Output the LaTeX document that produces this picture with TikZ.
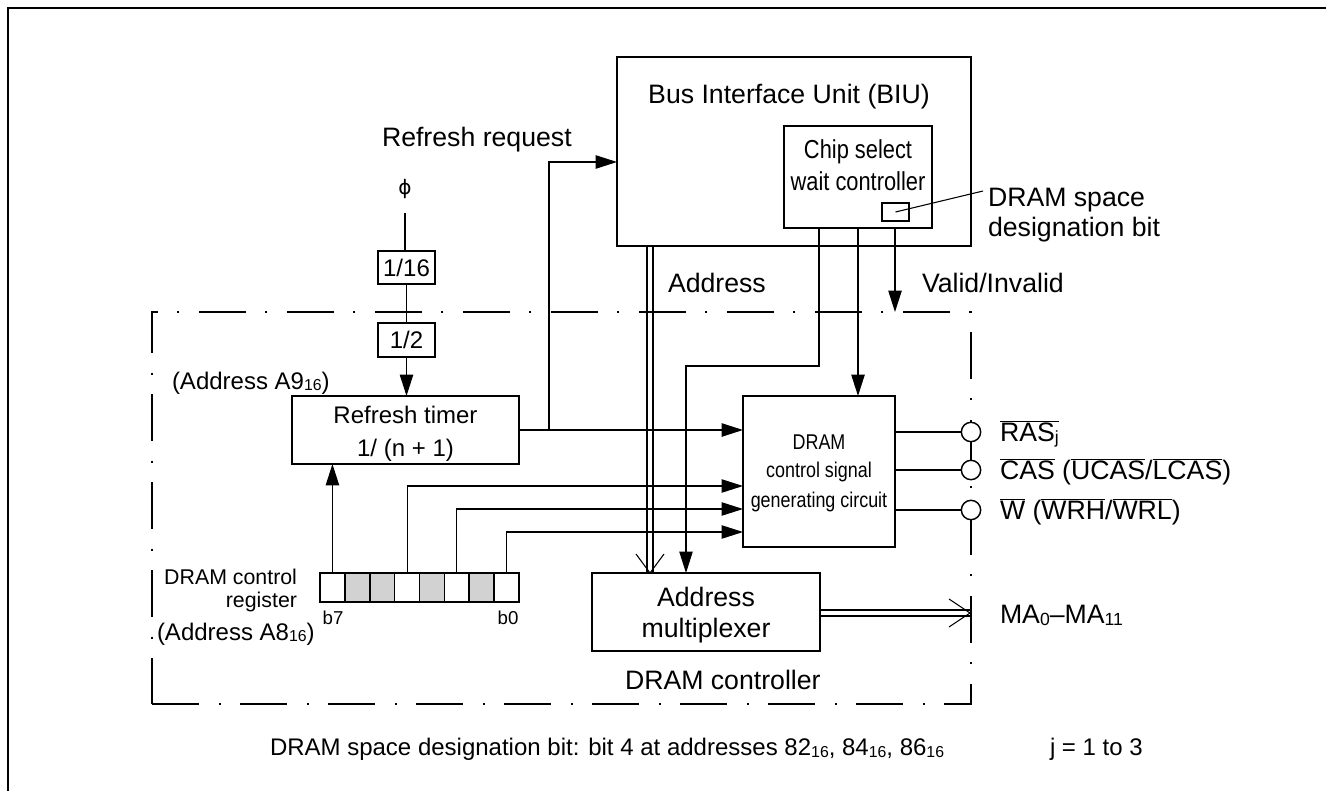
\documentclass[tikz,border=0pt]{standalone}
\usepackage{fontspec}
\usepackage{graphicx}
\setmainfont{Liberation Sans}
\newfontfamily\narrowfont[FakeStretch=0.84]{Liberation Sans}
\newfontfamily\dvfont{DejaVu Sans}
\usetikzlibrary{arrows.meta,calc}
\newcommand{\hexs}[1]{\raisebox{-0.12ex}{\scalebox{0.66}{#1}}}
\newcommand{\ovl}[1]{$\overline{\mbox{#1}}$}
\begin{document}
\begin{tikzpicture}[x=0.75pt,y=-0.75pt,
  every node/.style={inner sep=0pt, outer sep=0pt},
  txt/.style={font=\fontsize{20}{24}\selectfont},
  txtm/.style={font=\fontsize{18}{22}\selectfont},
  txtr/.style={font=\fontsize{16}{19}\selectfont},
  txts/.style={font=\fontsize{14}{16}\selectfont},
  narrowcs/.style={font=\narrowfont\fontsize{19.5}{22}\selectfont},
  narrowdc/.style={font=\narrowfont\fontsize{16}{19}\selectfont},
  blk/.style={draw, line width=1.2pt},
  conn/.style={line width=1pt},
  thinline/.style={line width=0.8pt},
  arr/.style={conn, -{Triangle[length=16pt,width=10pt]}},
  thinarr/.style={thinline, -{Triangle[length=16pt,width=10pt]}},
  dashdot/.style={draw, line width=1.1pt, dash pattern=on 35pt off 15pt on 1.5pt off 14.5pt},
  bitw/.style={draw, line width=1.2pt, minimum width=18.66pt, minimum height=21.75pt},
  bitg/.style={bitw, fill=gray!35},
  sig/.style={draw, circle, fill=white, line width=1.1pt, minimum size=14.5pt}
]
\useasboundingbox (0,0) rectangle (1326,791);
% outer frame
\draw[line width=2.2pt] (8,791) -- (8,8) -- (1326,8);

% DRAM controller dash-dot region
\node[dashdot, minimum width=614.25pt, minimum height=294pt] (ctl) at (561.5,508) {};
\node[txt, anchor=base west] (ctlt) at (625,689.5) {DRAM controller};

% BIU
\node[blk, minimum width=265.5pt, minimum height=141.75pt] (biu) at (794,151.5) {};
\node[txt, anchor=base] (biut) at (789,103.5) {Bus Interface Unit (BIU)};
\node[blk, minimum width=111pt, minimum height=76.5pt] (cs) at (858,177) {};
\node[narrowcs, anchor=base] (cst1) at (858,159) {Chip select};
\node[narrowcs, anchor=base] (cst2) at (858,191) {wait controller};
\node[blk, minimum width=20.25pt, minimum height=13.5pt] (sm) at (895.5,212) {};
\coordinate (ldr) at (983,191);
\draw[thinline] (sm.center) -- (ldr);
\node[txt, anchor=base west] (dsd1) at (988,207) {DRAM space};
\node[txt, anchor=base west] (dsd2) at (988,237) {designation bit};

% clock path
\node[txt, anchor=base west] (rrq) at (382,146.5) {Refresh request};
\node[font=\dvfont\fontsize{15}{18}\selectfont] (phi) at (405,189) {ϕ};
\coordinate (phib) at (405,213);
\node[blk, txtm, minimum width=42.75pt, minimum height=24.75pt] (d16) at (406.5,267.5) {1/16};
\node[blk, txtm, minimum width=42.75pt, minimum height=25.5pt] (d2) at (406.5,340) {1/2};
\draw[conn] (phib) -- (phib |- d16.north);
\draw[conn] (d16.south) -- (d2.north);
\node[txtm, anchor=base west] (a9) at (172,389) {(Address A9\hexs{16})};

% refresh timer
\node[blk, minimum width=170.25pt, minimum height=51pt] (rt) at (405.5,430) {};
\node[txtm, anchor=base] (rtt1) at (405.5,423.6) {Refresh timer};
\node[txtm, anchor=base] (rtt2) at (405.5,456) {1/ (n + 1)};
\draw[arr] (d2.south) -- (d2.south |- rt.north);

% DRAM control signal generating circuit
\node[blk, minimum width=114pt, minimum height=113.25pt] (dc) at (819,471.5) {};
\node[narrowdc, anchor=base] (dct1) at (819,449.6) {DRAM};
\node[narrowdc, anchor=base] (dct2) at (819,477.6) {control signal};
\node[narrowdc, anchor=base] (dct3) at (819,507.6) {generating circuit};

% address multiplexer
\node[blk, minimum width=171pt, minimum height=58.5pt] (mux) at (706,612) {};
\node[txt, anchor=base] (muxt1) at (706,606.5) {Address};
\node[txt, anchor=base] (muxt2) at (706,637.5) {multiplexer};

% register
\node[bitw] (r7) at (332.44,587.5) {};
\node[bitg] (r6) at (357.31,587.5) {};
\node[bitg] (r5) at (382.19,587.5) {};
\node[bitw] (r4) at (407.06,587.5) {};
\node[bitg] (r3) at (431.94,587.5) {};
\node[bitw] (r2) at (456.81,587.5) {};
\node[bitg] (r1) at (481.69,587.5) {};
\node[bitw] (r0) at (506.56,587.5) {};
\node[txts, anchor=base] (b7) at (333,624) {b7};
\node[txts, anchor=base] (b0) at (508,624) {b0};
\node[txtr, anchor=base east] (rg1) at (297,584) {DRAM control};
\node[txtr, anchor=base east] (rg2) at (297,607) {register};
\node[txtm, anchor=base west] (a8) at (157,640) {(Address A8\hexs{16})};

% helper coordinates
\coordinate (y162) at (0,162);
\coordinate (y366) at (0,366);
\coordinate (y486) at (0,486);
\coordinate (y509) at (0,509);
\coordinate (y532) at (0,532);
\coordinate (y610) at (0,610);
\coordinate (y616) at (0,616);
\coordinate (x647) at (647,0);
\coordinate (x653) at (653,0);
\coordinate (x650) at (650,0);
\coordinate (x686) at (686,0);
\coordinate (x819) at (819,0);
\coordinate (x858) at (858,0);
\coordinate (x895) at (895,0);
\coordinate (jn) at (549,430);
\coordinate (xo) at (970,0);
\coordinate (otip) at (970,613);

% refresh request and refresh timer output
\draw[arr] (rt.east) -- (dc.west |- rt.east);
\draw[arr] (jn) |- (biu.west |- y162);

% register bit lines
\draw[arr] (r7.north) -- (r7.north |- rt.south);
\draw[thinarr] (r4.north) |- (dc.west |- y486);
\draw[thinarr] (r2.north) |- (dc.west |- y509);
\draw[thinarr] (r0.north) |- (dc.west |- y532);

% chip select lines
\draw[thinarr] (cs.south -| x819) |- (x686 |- y366) -- (mux.north -| x686);
\draw[arr] (cs.south -| x858) -- (dc.north -| x858);
\draw[arr] (cs.south -| x895) -- (ctl.north -| x895);
\node[txt, anchor=base west] (vi) at (922,292.5) {Valid/Invalid};

% address bus (double line)
\draw[thinline] (biu.south -| x647) -- (mux.north -| x647);
\draw[thinline] (biu.south -| x653) -- (mux.north -| x653);
\draw[thinline] ($(mux.north -| x650)+(-14,-19)$) -- (mux.north -| x650) -- ($(mux.north -| x650)+(14,-19)$);
\node[txt, anchor=base west] (addr) at (668,292.5) {Address};

% output address bus
\draw[thinline] (mux.east |- y610) -- (xo |- y610);
\draw[thinline] (mux.east |- y616) -- (xo |- y616);
\draw[thinline] ($(otip)+(-21,-14)$) -- (otip) -- ($(otip)+(-21,14)$);
\node[txt, anchor=base west] (ma) at (1000,623.5) {MA\hexs{0}–MA\hexs{11}};

% control signal outputs
\node[sig] (c1) at (971,432) {};
\node[sig] (c2) at (971,470) {};
\node[sig] (c3) at (971,510) {};
\draw[thinline] (dc.east |- c1) -- (c1.west);
\draw[thinline] (dc.east |- c2) -- (c2.west);
\draw[thinline] (dc.east |- c3) -- (c3.west);
\node[txt, anchor=base west] (s1) at (1000,441.5) {\ovl{RAS\hexs{j}}};
\node[txt, anchor=base west] (s2) at (1000,479.5) {\ovl{CAS} (\ovl{UCAS}/\ovl{LCAS})};
\node[txt, anchor=base west] (s3) at (1000,519.5) {\ovl{W} (\ovl{WRH}/\ovl{WRL})};

% footnotes
\node[txtm, anchor=base west] (fn1) at (270,755.6) {DRAM space designation bit: bit 4 at addresses 82\hexs{16}, 84\hexs{16}, 86\hexs{16}};
\node[txtm, anchor=base west] (fn2) at (1050,755.6) {j = 1 to 3};
\end{tikzpicture}
\end{document}
